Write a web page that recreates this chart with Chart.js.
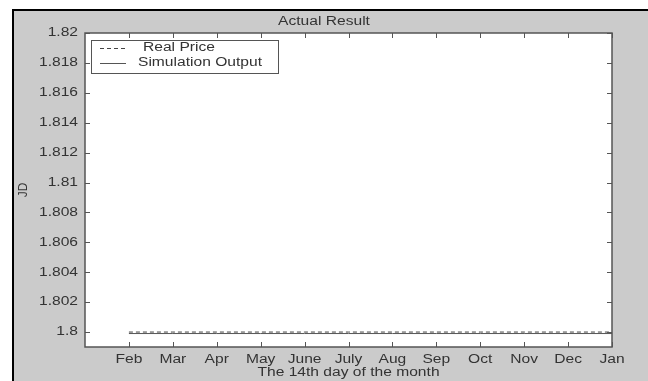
<!DOCTYPE html>
<html>
<head>
<meta charset="utf-8">
<style>
  html, body { margin: 0; padding: 0; background: #ffffff; }
  #wrap { width: 648px; height: 381px; position: relative; }
</style>
<script src="https://cdn.jsdelivr.net/npm/chart.js@4.4.1/dist/chart.umd.min.js"></script>
</head>
<body>
<div id="wrap"><canvas id="chart" width="648" height="381"></canvas></div>
<script>
// Month labels (the 14th of each month), positions 1..12 on the x axis
const months = ['Feb', 'Mar', 'Apr', 'May', 'June', 'July', 'Aug', 'Sep', 'Oct', 'Nov', 'Dec', 'Jan'];
const xPositions = [1, 2, 3, 4, 5, 6, 7, 8, 9, 10, 11, 12];

// Price series (JD)
const realPrice = [1.8, 1.8, 1.8, 1.8, 1.8, 1.8, 1.8, 1.8, 1.8, 1.8, 1.8, 1.8];
const simulationOutput = [1.7999, 1.7999, 1.7999, 1.7999, 1.7999, 1.7999, 1.7999, 1.7999, 1.7999, 1.7999, 1.7999, 1.7999];

// Y axis tick values
const yTicks = [1.8, 1.802, 1.804, 1.806, 1.808, 1.81, 1.812, 1.814, 1.816, 1.818, 1.82];

const FONT = 'Liberation Sans, Arial, sans-serif';
const FONT_SIZE = 12;
const TEXT_STRETCH = 1.3;   // wide-set lettering of the figure
const TEXT = '#333333';
const AXIS = '#555555';
const PANEL = '#cbcbcb';

const toPoints = arr => arr.map((v, i) => ({ x: xPositions[i], y: v }));

// Horizontally widened text for unrotated labels
const canvas = document.getElementById('chart');
const c2d = canvas.getContext('2d');
const baseFillText = c2d.fillText.bind(c2d);
c2d.fillText = function (text, x, y, maxWidth) {
  const m = this.getTransform();
  if (m.b !== 0 || m.c !== 0) return baseFillText(text, x, y);
  this.save();
  this.translate(x, y);
  this.scale(TEXT_STRETCH, 1);
  baseFillText(text, 0, 0);
  this.restore();
};

// Window background, frame, axes box, inward ticks and the legend box
const frame = {
  id: 'frame',
  beforeDraw(chart) {
    const { ctx, chartArea: a, width, height } = chart;
    ctx.save();
    ctx.fillStyle = '#ffffff';
    ctx.fillRect(0, 0, width, height);
    ctx.fillStyle = PANEL;
    ctx.fillRect(13, 10, width - 13, height - 10);
    ctx.fillStyle = '#000000';
    ctx.fillRect(12, 9, width - 12, 2);
    ctx.fillRect(12, 9, 2, height - 9);
    ctx.fillStyle = '#ffffff';
    ctx.fillRect(a.left, a.top, a.right - a.left, a.bottom - a.top);
    ctx.restore();
  },
  afterDraw(chart) {
    const { ctx, chartArea: a, scales } = chart;
    const len = 5;
    ctx.save();
    ctx.strokeStyle = AXIS;
    ctx.lineWidth = 1;
    ctx.beginPath();
    scales.x.ticks.forEach(t => {
      const px = Math.round(scales.x.getPixelForValue(t.value)) + 0.5;
      ctx.moveTo(px, a.bottom); ctx.lineTo(px, a.bottom - len);
      ctx.moveTo(px, a.top); ctx.lineTo(px, a.top + len);
    });
    scales.y.ticks.forEach(t => {
      const py = Math.round(scales.y.getPixelForValue(t.value)) + 0.5;
      ctx.moveTo(a.left, py); ctx.lineTo(a.left + len, py);
      ctx.moveTo(a.right, py); ctx.lineTo(a.right - len, py);
    });
    ctx.stroke();
    ctx.lineWidth = 1.5;
    ctx.strokeRect(a.left, a.top, a.right - a.left, a.bottom - a.top);

    // Legend
    const bx = a.left + 6, by = a.top + 7, bw = 187, bh = 33;
    ctx.fillStyle = '#ffffff';
    ctx.fillRect(bx, by, bw, bh);
    ctx.lineWidth = 1;
    ctx.strokeStyle = AXIS;
    ctx.strokeRect(bx + 0.5, by + 0.5, bw, bh);
    ctx.font = FONT_SIZE + 'px ' + FONT;
    ctx.textBaseline = 'middle';
    ctx.textAlign = 'left';
    const rows = [
      { ds: chart.data.datasets[0], y: by + 8, tx: bx + 52 },
      { ds: chart.data.datasets[1], y: by + 23, tx: bx + 47 }
    ];
    rows.forEach(r => {
      ctx.strokeStyle = r.ds.borderColor;
      ctx.lineWidth = 1;
      ctx.setLineDash(r.ds.borderDash || []);
      ctx.beginPath();
      ctx.moveTo(bx + 9, Math.round(r.y) + 0.5);
      ctx.lineTo(bx + 35, Math.round(r.y) + 0.5);
      ctx.stroke();
      ctx.setLineDash([]);
      ctx.fillStyle = TEXT;
      ctx.fillText(r.ds.label, r.tx, r.y);
    });
    ctx.restore();
  }
};

new Chart(canvas, {
  type: 'line',
  data: {
    datasets: [
      {
        label: 'Real Price',
        data: toPoints(realPrice),
        borderColor: '#444444',
        borderWidth: 1,
        borderDash: [4, 3],
        pointRadius: 0,
        tension: 0
      },
      {
        label: 'Simulation Output',
        data: toPoints(simulationOutput),
        borderColor: '#555555',
        borderWidth: 1,
        pointRadius: 0,
        tension: 0
      }
    ]
  },
  options: {
    responsive: false,
    animation: false,
    events: [],
    layout: { padding: 0 },
    plugins: {
      legend: { display: false },
      tooltip: { enabled: false },
      title: {
        display: true,
        text: 'Actual Result',
        color: TEXT,
        font: { family: FONT, size: FONT_SIZE, weight: 'normal' },
        padding: { top: 14, bottom: 4.6 }
      }
    },
    scales: {
      x: {
        type: 'linear',
        min: 0,
        max: 12,
        afterBuildTicks(scale) { scale.ticks = xPositions.map(v => ({ value: v })); },
        afterFit(scale) { scale.height = 34; },
        grid: { display: false, drawTicks: false },
        border: { display: false },
        ticks: {
          color: TEXT,
          font: { family: FONT, size: FONT_SIZE },
          padding: 5,
          maxRotation: 0,
          autoSkip: false,
          callback: v => months[xPositions.indexOf(v)] || ''
        },
        title: {
          display: true,
          text: 'The 14th day of the month',
          color: TEXT,
          font: { family: FONT, size: FONT_SIZE },
          padding: { top: 0, bottom: 0.8 }
        }
      },
      y: {
        type: 'linear',
        min: 1.799,
        max: 1.82,
        afterBuildTicks(scale) { scale.ticks = yTicks.map(v => ({ value: v })); },
        afterFit(scale) { scale.width = 85; },
        grid: { display: false, drawTicks: false },
        border: { display: false },
        ticks: {
          color: TEXT,
          font: { family: FONT, size: FONT_SIZE },
          padding: 7,
          autoSkip: false,
          callback: v => String(parseFloat(v.toFixed(3)))
        },
        title: {
          display: true,
          text: 'JD',
          color: TEXT,
          font: { family: FONT, size: FONT_SIZE },
          padding: { top: 16, bottom: 0 }
        }
      },
      // Unlabelled margin on the right of the axes box
      yMargin: {
        type: 'linear',
        position: 'right',
        min: 1.799,
        max: 1.82,
        afterFit(scale) { scale.width = 36; },
        grid: { display: false, drawTicks: false },
        border: { display: false },
        ticks: { display: false }
      }
    }
  },
  plugins: [frame]
});
</script>
</body>
</html>
